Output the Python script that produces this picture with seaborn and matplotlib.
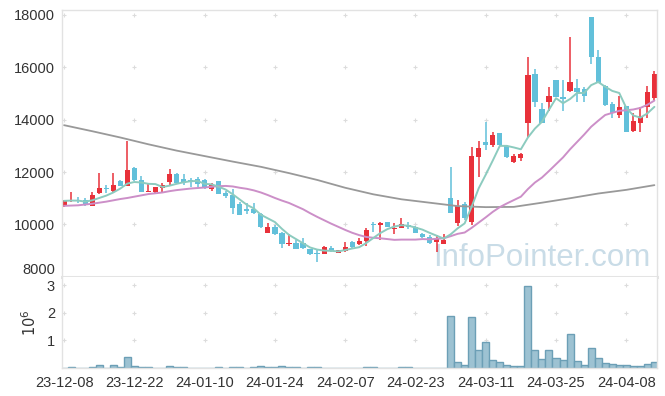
import numpy as np
import pandas as pd
import matplotlib
matplotlib.use("Agg")
import matplotlib.pyplot as plt
from matplotlib import font_manager as fm
import seaborn as sns

# ---------------- data ----------------
tick_labels = ["23-12-08", "23-12-22", "24-01-10", "24-01-24", "24-02-07",
               "24-02-23", "24-03-11", "24-03-25", "24-04-08"]
tick_index = [0, 10, 20, 30, 40, 50, 60, 70, 80]

opens = [10710, 10880, 10940, 10930, 10720, 11190, 11400, 11280, 11660, 11470,
         12160, 11700, 11240, 11230, 11400, 11630, 11930, 11720, 11700, 11720,
         11700, 11350, 11660, 11210, 11120, 10780, 10570, 10580, 10380, 9670,
         9900, 9680, 9260, 9300, 9280, 9060, 8910, 8880, 9090, 8920,
         8990, 9330, 9250, 9380, 10020, 9980, 10080, 9830, 9880, 9980,
         9910, 9630, 9530, 9340, 9250, 11010, 10040, 10780, 10080, 12590,
         13150, 13030, 13480, 13010, 12400, 12530, 13890, 15750, 14400, 14690,
         15520, 14850, 15110, 15200, 15160, 17940, 16410, 15290, 14600, 14180,
         14520, 13580, 13890, 14470, 14830]
highs = [10930, 11240, 11060, 11010, 11230, 11980, 11510, 11980, 11710, 13200,
         12180, 11860, 11570, 11440, 11590, 12120, 11950, 11930, 11790, 11800,
         11720, 11570, 11670, 11290, 11350, 10870, 10820, 10800, 10450, 10040,
         9980, 9720, 9620, 9400, 9470, 9080, 9060, 9160, 9180, 9040,
         9320, 9360, 9470, 9850, 10100, 10100, 10090, 10040, 10230, 10100,
         9940, 9670, 9590, 9600, 9620, 12200, 10930, 10870, 12970, 13190,
         13920, 13530, 13490, 13030, 12690, 12740, 16380, 15940, 14640, 15240,
         15530, 15520, 17170, 15540, 15240, 17940, 16680, 15330, 14680, 14890,
         14530, 14250, 14500, 15290, 15870]
lows = [10650, 10870, 10830, 10700, 10710, 11150, 11190, 11240, 11470, 11450,
        11670, 11240, 11230, 11200, 11230, 11470, 11580, 11510, 11420, 11440,
        11360, 11290, 11150, 11000, 10380, 10350, 10400, 10410, 9850, 9660,
        9600, 9110, 9190, 9060, 9060, 8850, 8550, 8870, 8940, 8890,
        8960, 9110, 9230, 9190, 9720, 9410, 9900, 9630, 9860, 9830,
        9670, 9500, 9260, 8960, 9240, 10440, 9950, 10170, 9980, 11820,
        12840, 12970, 13020, 12530, 12340, 12430, 13350, 14500, 13860, 14330,
        14870, 14340, 15070, 14690, 14690, 16130, 15390, 14520, 14050, 14050,
        13530, 13540, 13540, 14080, 14750]
closes = [10900, 10930, 10890, 10750, 11110, 11380, 11350, 11510, 11480, 12080,
          11680, 11250, 11280, 11420, 11500, 11930, 11600, 11590, 11630, 11530,
          11380, 11510, 11160, 11090, 10610, 10360, 10530, 10450, 9890, 9910,
          9650, 9260, 9300, 9080, 9090, 8870, 8860, 9120, 9000, 9010,
          9120, 9130, 9380, 9790, 9970, 10070, 9910, 9860, 10020, 9910,
          9680, 9530, 9280, 9430, 9400, 10450, 10700, 10230, 12610, 12910,
          13030, 13420, 13030, 12590, 12610, 12680, 15710, 14690, 13890, 14910,
          14880, 14800, 15450, 15070, 14910, 16380, 15400, 14560, 14270, 14470,
          13540, 13950, 14160, 15070, 15750]

# volume in millions of shares
volume_mil = [0, 0.04, 0, 0, 0.04, 0.11, 0, 0.11, 0.04, 0.40,
              0.07, 0.04, 0.04, 0, 0, 0.07, 0.04, 0.04, 0, 0,
              0, 0, 0.04, 0, 0.04, 0.04, 0, 0.04, 0.07, 0.04,
              0.04, 0.07, 0.04, 0.04, 0, 0.04, 0.04, 0, 0, 0,
              0, 0, 0, 0.04, 0.04, 0, 0, 0, 0.04, 0.04,
              0, 0, 0, 0, 0,
              1.87, 0.22, 0.11, 1.83, 0.66, 0.92, 0.29, 0.22, 0.11, 0.07,
              0.07, 2.97, 0.66, 0.33, 0.66, 0.37, 0.29, 1.21, 0.26, 0.11,
              0.73, 0.37, 0.18, 0.15, 0.11, 0.11, 0.07, 0.07, 0.15, 0.22]

# short moving average (green)
ma_short = [10900, 10910, 10910, 10870, 10920, 11010, 11100, 11220, 11370, 11560,
            11620, 11600, 11550, 11540, 11430, 11480, 11550, 11610, 11650, 11660,
            11550, 11530, 11440, 11330, 11150, 10950, 10750, 10610, 10370, 10230,
            10090, 9830, 9600, 9440, 9280, 9120, 9040, 9000, 8990, 8970,
            9020, 9080, 9130, 9290, 9480, 9670, 9820, 9920, 9970, 9950,
            9880, 9800, 9680, 9570, 9460, 9620, 9850, 10040, 10680, 11380,
            11900, 12440, 13000, 13000, 12940, 12870, 13320, 13660, 13920, 14380,
            14820, 14630, 14790, 15020, 15020, 15320, 15440, 15260, 15100, 15020,
            14450, 14160, 14080, 14240, 14490]
# middle moving average (pink)
ma_mid = [10710, 10720, 10730, 10760, 10790, 10830, 10870, 10920, 10970, 11010,
          11060, 11110, 11160, 11190, 11220, 11270, 11310, 11340, 11370, 11390,
          11410, 11440, 11460, 11470, 11450, 11400, 11360, 11300, 11220, 11120,
          11010, 10910, 10820, 10700, 10580, 10430, 10290, 10160, 10030, 9910,
          9790, 9680, 9590, 9520, 9490, 9470, 9440, 9410, 9420, 9420,
          9420, 9440, 9430, 9450, 9470, 9550, 9640, 9690, 9870, 10070,
          10270, 10480, 10660, 10800, 10930, 11060, 11350, 11600, 11790, 12040,
          12300, 12560, 12870, 13150, 13430, 13730, 13960, 14180, 14260, 14340,
          14360, 14390, 14450, 14570, 14730]
# long moving average (grey), read every 4 sessions
ma_long_idx = [0, 4, 8, 12, 16, 20, 24, 28, 32, 36, 40, 44, 48, 52, 56, 60,
               64, 68, 72, 76, 80, 84]
ma_long = [13790, 13560, 13320, 13060, 12820, 12610, 12400, 12200, 11960, 11700,
           11400, 11150, 10960, 10830, 10700, 10660, 10670, 10830, 11000, 11180,
           11320, 11500]

# ---------------- styling ----------------
sns.set_theme(style="white")


def has_font(name):
    try:
        fm.findfont(fm.FontProperties(family=name), fallback_to_default=False)
        return True
    except Exception:
        return False


plt.rcParams["font.family"] = ["Liberation Sans", "DejaVu Sans"]
wm_family = "Liberation Sans Narrow" if has_font("Liberation Sans Narrow") else "Liberation Sans"
wm_size = 27 if wm_family == "Liberation Sans Narrow" else 22.5

RED = "#e8313a"
BLUE = "#62c0da"
FRAME = "#e2e2e2"
TXT = "#333333"

W, H = 665, 396
fig = plt.figure(figsize=(W / 100, H / 100), dpi=100)
left, right = 62 / W, 656.5 / W
top_p, bot_p = 1 - 10 / H, 1 - 277.3 / H
bot_v = 1 - 367.7 / H
ax_p = fig.add_axes([left, bot_p, right - left, top_p - bot_p])
ax_v = fig.add_axes([left, bot_v, right - left, bot_p - bot_v])

df = pd.DataFrame({"idx": np.arange(len(closes)), "open": opens, "high": highs,
                   "low": lows, "close": closes, "vol": volume_mil,
                   "ma_s": ma_short, "ma_m": ma_mid})
up = df["close"] >= df["open"]
colors = np.where(up, RED, BLUE)

# grid "+" markers
gx, gy = np.meshgrid(tick_index, [10000, 12000, 14000, 16000, 18000])
ax_p.scatter(gx.ravel(), gy.ravel(), marker="+", s=12, color="#dcdcdc",
             linewidths=0.8, zorder=0)
gx2, gy2 = np.meshgrid(tick_index, [1, 2, 3])
ax_v.scatter(gx2.ravel(), gy2.ravel(), marker="+", s=12, color="#dcdcdc",
             linewidths=0.8, zorder=0)

# watermark
ax_p.text(433 / W, 1 - 266 / H, "InfoPointer.com", transform=fig.transFigure,
          ha="left", va="baseline", fontsize=wm_size, family=wm_family,
          color="#c9dce7", zorder=0.5)

# candles
ax_p.vlines(df["idx"], df["low"], df["high"], colors=colors, linewidth=1.1,
            zorder=2)
body_lo = np.minimum(df["open"], df["close"])
body_h = np.maximum(np.abs(df["close"] - df["open"]), 45)
ax_p.bar(df["idx"], body_h, bottom=body_lo, width=0.74, color=colors,
         linewidth=0, zorder=2.5)

# moving averages
sns.lineplot(x=ma_long_idx, y=ma_long, ax=ax_p, color="#999999", linewidth=1.3,
             zorder=3)
sns.lineplot(data=df, x="idx", y="ma_m", ax=ax_p, color="#cc8fc8", linewidth=1.4,
             zorder=3)
sns.lineplot(data=df, x="idx", y="ma_s", ax=ax_p, color="#8ccbbf", linewidth=1.4,
             zorder=3.1)

# volume
sns.barplot(data=df, x="idx", y="vol", ax=ax_v, native_scale=True, width=1.0,
            color="#9dc2d2", saturation=1, edgecolor="#6c9fb6", linewidth=1.0,
            zorder=2)

# axes limits / ticks
for ax in (ax_p, ax_v):
    ax.set_xlim(-0.3, 84.3)
    ax.set_xlabel("")
    ax.set_xticks(tick_index)
    ax.set_facecolor("white")
    for s in ax.spines.values():
        s.set_color(FRAME)
        s.set_linewidth(1.0)

ax_p.set_ylim(7980, 18190)
ax_p.set_yticks([8000, 10000, 12000, 14000, 16000, 18000])
ax_p.set_ylabel("")
ax_p.tick_params(axis="y", length=0, pad=5, labelsize=10.5, labelcolor=TXT)
ax_p.tick_params(axis="x", length=0, labelbottom=False)
ax_p.spines["bottom"].set_linewidth(2.2)
ax_p.spines["bottom"].set_color("#e4e4e4")
# keep the lowest price label just above the panel border
ax_p.get_yticklabels()[0].set_verticalalignment("bottom")

ax_v.set_ylim(0, 3.28)
ax_v.set_yticks([1, 2, 3])
ax_v.set_yticklabels(["1", "2", "3"])
ax_v.set_xticklabels(tick_labels)
ax_v.tick_params(axis="y", length=0, pad=5, labelsize=10.5, labelcolor=TXT)
ax_v.tick_params(axis="x", length=0, pad=6, labelsize=10.5, labelcolor=TXT)
ax_v.set_ylabel(r"$10^{6}$", fontsize=10.5, color=TXT, labelpad=6)
ax_v.spines["top"].set_visible(False)

fig.savefig("out.png", dpi=100, facecolor="white")
